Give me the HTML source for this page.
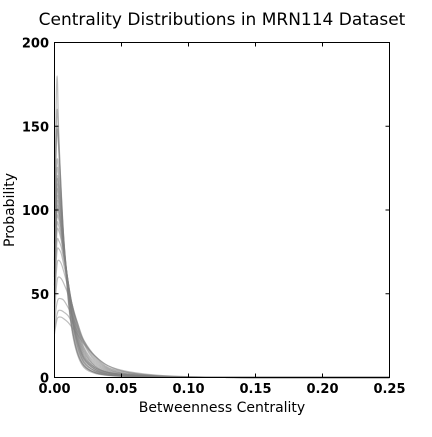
<!DOCTYPE html>
<html><head><meta charset="utf-8"><style>
body{margin:0;background:#fff;}
svg text{font-family:"DejaVu Sans","Liberation Sans",sans-serif;}
</style></head><body>
<svg id="chart" width="432" height="432" viewBox="0 0 432 432" xmlns="http://www.w3.org/2000/svg">
<text x="222" y="25" text-anchor="middle" font-size="17">Centrality Distributions in MRN114 Dataset</text>
<g id="curves"></g>
<rect x="54.5" y="42.5" width="335" height="335" fill="none" stroke="#000" stroke-width="1"/>
<g id="axes"></g>
<text x="222" y="412" text-anchor="middle" font-size="14">Betweenness Centrality</text>
<text transform="translate(14,210) rotate(-90)" text-anchor="middle" font-size="14">Probability</text>
</svg>
<script>
const xGrid=[0,0.001,0.002,0.003,0.005,0.007,0.01,0.013,0.017,0.022,0.03,0.04,0.055,0.075,0.1,0.15,0.25];
const curveValues=[
[60,150,180,150,110,80,48,28,14,6,2.5,1.2,0.5,0.2,0.1,0,0],
[70,130,150,140,110,82,50,30,15,7,3,1.5,0.6,0.3,0.1,0,0],
[80,128,148,138,108,80,50,30,16,7,3,1.5,0.7,0.3,0.1,0,0],
[75,115,130,125,105,82,55,34,18,8,3,1.4,0.6,0.3,0.1,0,0],
[70,110,125,120,102,80,55,35,19,9,4,2,0.8,0.3,0.1,0,0],
[68,105,120,116,100,80,56,36,20,9,4,2,0.8,0.3,0.1,0,0],
[65,100,118,114,98,78,55,36,21,10,4,2,0.8,0.3,0.1,0,0],
[62,98,115,110,96,78,56,37,22,11,5,2,1,0.4,0.1,0,0],
[60,95,112,108,95,78,57,38,22,11,5,2.5,1,0.4,0.1,0,0],
[58,92,108,105,92,76,56,38,23,12,5,2.5,1.2,0.4,0.1,0,0],
[55,90,105,102,90,75,56,39,24,12,6,3,1.2,0.5,0.1,0,0],
[55,88,102,100,90,76,58,40,25,13,6,3,1.5,0.5,0.2,0,0],
[52,85,100,98,88,75,58,41,26,14,6,3,1.5,0.5,0.2,0,0],
[50,82,96,95,86,74,58,42,27,15,7,3,1.5,0.6,0.2,0,0],
[48,78,92,91,84,73,58,43,28,16,7,3,1.5,0.6,0.2,0,0],
[46,75,88,88,82,72,58,44,30,17,8,3.5,1.5,0.6,0.2,0,0],
[44,70,82,82,78,70,57,44,31,18,9,4,1.8,0.7,0.2,0,0],
[42,65,76,77,74,67,56,44,32,20,10,4.5,2,0.8,0.3,0,0],
[40,58,68,70,68,63,54,44,33,21,11,5,2,0.8,0.3,0,0],
[36,50,58,60,59,56,50,42,33,22,12,5.5,2.5,1,0.3,0,0],
[30,40,45,47,47,46,42,37,30,22,13,6,3,1,0.3,0,0],
[28,34,38,40,40,39,37,33,28,21,13,7,3,1.2,0.4,0,0],
[26,31,35,36,36,35,33,30,26,20,13,7,3.5,1.5,0.5,0.1,0],
[90,140,160,145,112,82,50,30,15,7,3,1.5,1.5,0.6,0.2,0.1,0]
];
const xTicks=[0,0.05,0.10,0.15,0.20,0.25];
const xTickLabels=["0.00","0.05","0.10","0.15","0.20","0.25"];
const yTicks=[0,50,100,150,200];
const yTickLabels=["0","50","100","150","200"];
const X0=54.5,X1=389.5,Y0=377.5,Y1=42.5;
function sx(v){return X0+(v-0)/(0.25-0)*(X1-X0);}
function sy(v){return Y0-(v-0)/(200-0)*(Y0-Y1);}
const NS="http://www.w3.org/2000/svg";
const cg=document.getElementById('curves');
curveValues.forEach((vals,i)=>{
  const p=document.createElementNS(NS,'path');
  
  
  const pts=xGrid.map((x,j)=>[sx(x),sy(vals[j])]);
  let d='M'+pts[0][0]+','+pts[0][1];
  for(let j=0;j<pts.length-1;j++){
    const p0=pts[Math.max(j-1,0)],p1=pts[j],p2=pts[j+1],p3=pts[Math.min(j+2,pts.length-1)];
    const c1=[p1[0]+(p2[0]-p0[0])/6,p1[1]+(p2[1]-p0[1])/6];
    const c2=[p2[0]-(p3[0]-p1[0])/6,p2[1]-(p3[1]-p1[1])/6];
    d+=' C'+c1[0]+','+c1[1]+' '+c2[0]+','+c2[1]+' '+p2[0]+','+p2[1];
  }
  p.setAttribute('d',d);
  p.setAttribute('fill','none');
  p.setAttribute('stroke','rgba(128,128,128,0.5)');
  p.setAttribute('stroke-width','1.2');
  cg.appendChild(p);
});
const ag=document.getElementById('axes');
function line(x1,y1,x2,y2,name){
  const l=document.createElementNS(NS,'line');
  
  
  l.setAttribute('x1',x1);l.setAttribute('y1',y1);l.setAttribute('x2',x2);l.setAttribute('y2',y2);
  l.setAttribute('stroke','#000');ag.appendChild(l);
}
function txt(x,y,s,anchor,name){
  const t=document.createElementNS(NS,'text');
  
  
  t.setAttribute('x',x);t.setAttribute('y',y);t.setAttribute('text-anchor',anchor);
  t.setAttribute('font-size','13');t.setAttribute('font-weight','bold');
  t.textContent=s;ag.appendChild(t);
}
xTicks.forEach((v,i)=>{
  const x=sx(v);
  line(x,Y0,x,Y0-4,'x-tick');line(x,Y1,x,Y1+4,'x-tick-top');
  txt(x,393,xTickLabels[i],'middle','x-tick-label');
});
yTicks.forEach((v,i)=>{
  const y=sy(v);
  line(X0,y,X0+4,y,'y-tick');line(X1,y,X1-4,y,'y-tick-right');
  txt(49,y+5,yTickLabels[i],'end','y-tick-label');
});
</script>
</body></html>
